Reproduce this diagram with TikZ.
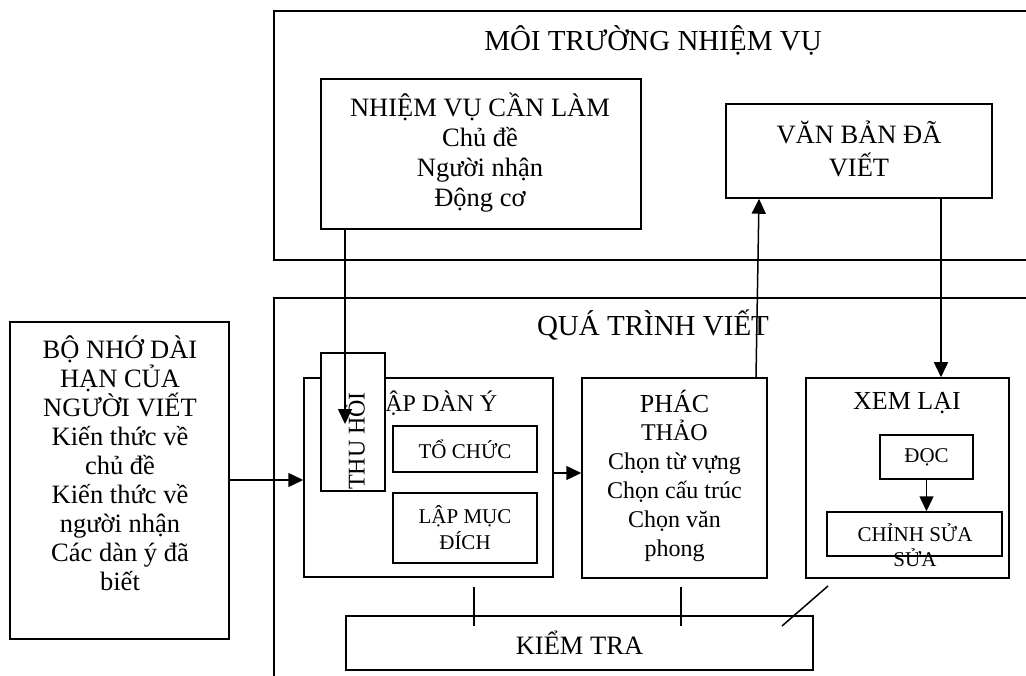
\documentclass[tikz,border=0pt]{standalone}
\usepackage{fontspec}
\setmainfont{Liberation Serif}
\usetikzlibrary{arrows.meta}
\newcommand\myfs[2]{\fontsize{#1}{#2}\selectfont}
\tikzset{
  box/.style={draw, line width=1.5pt, fill=white, inner sep=0pt},
  arr/.style={line width=1.5pt, -{Triangle[length=15pt,width=14pt]}},
  ln/.style={line width=1.5pt},
  t/.style={align=center, inner sep=0pt},
}
\begin{document}
\begin{tikzpicture}[x=1pt,y=-1pt]
\useasboundingbox (0,0) rectangle (1026,676);
\clip (0,0) rectangle (1026,676);
% environment
\node[box, minimum width=766pt, minimum height=249pt] (env) at (657,135.5) {};
\node[t, font=\myfs{29}{33}] (envt) at (653,40) {MÔI TRƯỜNG NHIỆM VỤ};
\node[box, minimum width=320pt, minimum height=150pt] (task) at (481,154) {};
\node[t, font=\myfs{26.5}{30}] (taskt) at (480,152.5)
  {NHIỆM VỤ CẦN LÀM\\Chủ đề\\Người nhận\\Động cơ};
\node[box, minimum width=266pt, minimum height=94pt] (van) at (859,151) {};
\node[t, font=\myfs{26.5}{33}] (vant) at (859,148.5) {VĂN BẢN ĐÃ\\VIẾT};
% process
\node[box, minimum width=766pt, minimum height=402pt] (proc) at (657,499) {};
\node[t, font=\myfs{29}{33}] (proct) at (653,325) {QUÁ TRÌNH VIẾT};
% memory
\node[box, minimum width=219pt, minimum height=317pt] (mem) at (119.5,480.5) {};
\node[t, font=\myfs{26.5}{29}] (memt) at (120,463)
  {BỘ NHỚ DÀI\\HẠN CỦA\\NGƯỜI VIẾT\\Kiến thức về\\chủ đề\\Kiến thức về\\người nhận\\Các dàn ý đã\\biết};
% planning
\node[box, minimum width=249pt, minimum height=199pt] (lap) at (428.5,477.5) {};
\node[t, font=\myfs{24}{29}] (lapt) at (434,403) {LẬP DÀN Ý};
\node[box, t, minimum width=144pt, minimum height=46pt, font=\myfs{21}{26}] (tochuc) at (465,449) {TỔ CHỨC};
\node[box, t, minimum width=144pt, minimum height=70pt, font=\myfs{21}{26}] (lapmuc) at (465,528) {LẬP MỤC\\ĐÍCH};
\node[box, minimum width=64pt, minimum height=138pt] (thu) at (353,422) {};
\node[t, rotate=90, font=\myfs{24}{29}] (thut) at (354,441) {THU HỒI};
% drafting
\node[box, minimum width=185pt, minimum height=200pt] (phac) at (674.5,478) {};
\node[t, font=\myfs{24}{28.8}] (phact) at (674.5,475.5)
  {\myfs{26}{28.8}PHÁC\\THẢO\\\myfs{24}{28.8}Chọn từ vựng\\Chọn cấu trúc\\Chọn văn\\phong};
% reviewing
\node[box, minimum width=203pt, minimum height=200pt] (xem) at (907.5,478) {};
\node[t, font=\myfs{26}{30}] (xemt) at (907,403) {XEM LẠI};
\node[box, t, minimum width=93pt, minimum height=44pt, font=\myfs{21}{26}] (doc) at (926.5,457) {ĐỌC};
\node[box, minimum width=175pt, minimum height=44pt] (chinh) at (914.5,534) {};
\node[t, font=\myfs{21}{25}] (chinht) at (915,545.5) {CHỈNH SỬA\\SỬA};
% monitor
\node[box, t, minimum width=467pt, minimum height=54pt, font=\myfs{26.5}{30}] (kiem) at (579.5,643) {KIỂM TRA};
\coordinate (k1a) at (474,587); \coordinate (k1b) at (474,626);
\coordinate (k2a) at (681,587); \coordinate (k2b) at (681,626);
\coordinate (k3a) at (828,586); \coordinate (k3b) at (782,626);
\draw[ln] (k1a) -- (k1b);
\draw[ln] (k2a) -- (k2b);
\draw[ln] (k3a) -- (k3b);
% arrows
\coordinate (thtip) at (345,424);
\draw[arr] (task.south -| thtip) -- (thtip);
\draw[arr] (mem.east |- 0,480) -- (lap.west |- 0,480);
\draw[arr] (lap.east |- 0,473) -- (phac.west |- 0,473);
\draw[arr] ([xshift=81.5pt]phac.north) -- ([xshift=-100pt]van.south);
\draw[arr] ([xshift=82pt]van.south) -- ([xshift=82pt]van.south |- xem.north);
\draw[arr] (doc.south) -- (doc.south |- chinh.north);
\end{tikzpicture}
\end{document}
